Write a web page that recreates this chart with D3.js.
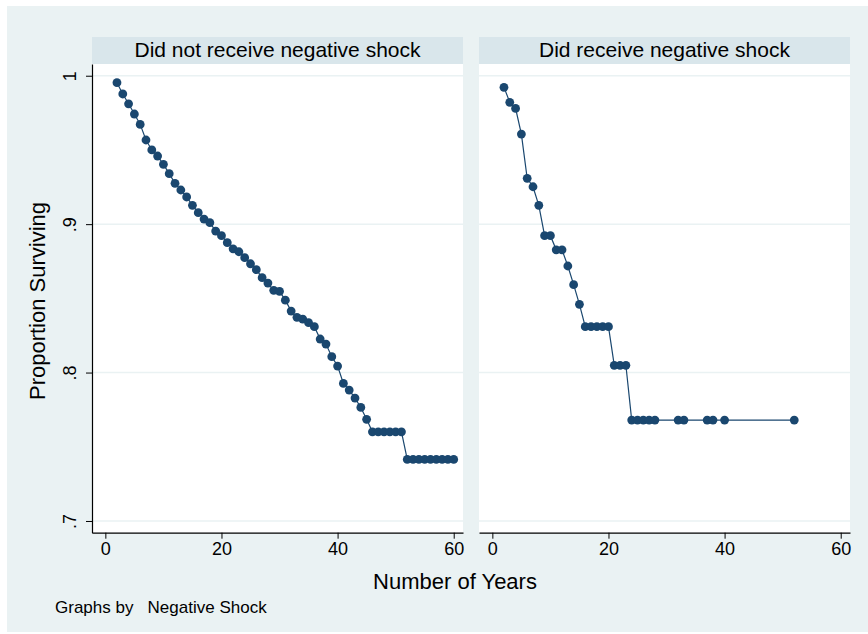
<!DOCTYPE html>
<html>
<head>
<meta charset="utf-8">
<script src="https://cdn.jsdelivr.net/npm/d3@7"></script>
<style>
  body { margin: 0; background: #fff; }
  svg { display: block; font-family: "Liberation Sans", Arial, sans-serif; }
</style>
</head>
<body>
<div id="chart"></div>
<script>
// panel titles
var panels = ["Did not receive negative shock", "Did receive negative shock"];

// years and proportion surviving, no shock
var yearsNo = [2,3,4,5,6,7,8,9,10,11,12,13,14,15,16,17,18,19,20,21,22,23,24,25,26,27,28,29,30,
  31,32,33,34,35,36,37,38,39,40,41,42,43,44,45,46,47,48,49,50,51,52,53,54,55,56,57,58,59,60];
var survNo = [0.9953,0.9877,0.9811,0.9742,0.9672,0.9567,0.9500,0.9459,0.9403,0.9340,0.9275,0.9230,
  0.9183,0.9127,0.9077,0.9034,0.9010,0.8953,0.8922,0.8875,0.8834,0.8814,0.8774,0.8733,0.8693,0.8639,
  0.8603,0.8554,0.8547,0.8488,0.8414,0.8372,0.8360,0.8336,0.8309,0.8226,0.8192,0.8107,0.8044,0.7927,
  0.7882,0.7828,0.7765,0.7685,0.7601,0.7601,0.7601,0.7601,0.7601,0.7601,0.7415,0.7415,0.7415,0.7415,
  0.7415,0.7415,0.7415,0.7415,0.7415];

// years and proportion surviving, shock
var yearsShock = [2,3,4,5,6,7,8,9,10,11,12,13,14,15,16,17,18,19,20,21,22,23,24,25,26,27,28,32,33,37,38,40,52];
var survShock = [0.9922,0.9821,0.9780,0.9607,0.9309,0.9252,0.9127,0.8922,0.8922,0.8827,0.8827,0.8718,
  0.8592,0.8460,0.8309,0.8309,0.8309,0.8309,0.8309,0.8049,0.8049,0.8049,0.7680,0.7680,0.7680,0.7680,
  0.7680,0.7680,0.7680,0.7680,0.7680,0.7680,0.7680];

var xTicks = [0, 20, 40, 60];
var yTicks = [0.7, 0.8, 0.9, 1];

var W = 868, H = 634;
var plotTop = 64, plotBottom = 532.7, panelW = 371;
var panelX = [92, 479];
var navy = "#1a476f", bg = "#eaf2f3", strip = "#d9e6eb", grid = "#eaf2f3";

var svg = d3.select("#chart").append("svg")
  .attr("width", W)
  .attr("height", H);

svg.append("rect").attr("x", 0).attr("y", 0).attr("width", W).attr("height", H).attr("fill", "#fff");
svg.append("rect").attr("x", 7).attr("y", 6).attr("width", W - 7).attr("height", 626).attr("fill", bg);

var x = d3.scaleLinear().domain([-2.3, 61.6]).range([0, panelW]);
var y = d3.scaleLinear().domain([0.6921, 1.0079]).range([plotBottom, plotTop]);

var series = [
  d3.zip(yearsNo, survNo),
  d3.zip(yearsShock, survShock)
];

series.forEach(function(pts, i) {
  var g = svg.append("g").attr("transform", "translate(" + panelX[i] + ",0)");

  // strip header
  g.append("rect").attr("x", 0).attr("y", 37).attr("width", panelW).attr("height", plotTop - 37)
    .attr("fill", strip);
  g.append("text")
    .attr("x", panelW / 2).attr("y", 57)
    .attr("text-anchor", "middle")
    .attr("font-size", 21)
    .attr("fill", "#000")
    .text(panels[i]);

  // plot region
  g.append("rect").attr("x", 0).attr("y", plotTop).attr("width", panelW).attr("height", plotBottom - plotTop)
    .attr("fill", "#fff");

  // gridlines
  g.selectAll(".grid")
    .data(yTicks)
    .enter().append("line")
      .attr("x1", 0).attr("x2", panelW)
      .attr("y1", d => y(d)).attr("y2", d => y(d))
      .attr("stroke", grid).attr("stroke-width", 1.5);

  // line + markers
  var line = d3.line().x(d => x(d[0])).y(d => y(d[1]));
  g.append("path")
    .datum(pts)
    .attr("d", line)
    .attr("fill", "none")
    .attr("stroke", navy)
    .attr("stroke-width", 1.2);

  g.selectAll(".pt")
    .data(pts)
    .enter().append("circle")
      .attr("cx", d => x(d[0]))
      .attr("cy", d => y(d[1]))
      .attr("r", 4.4)
      .attr("fill", navy);

  // x axis
  var xa = g.append("g")
    .attr("transform", "translate(0," + plotBottom + ")")
    .call(d3.axisBottom(x).tickValues(xTicks).tickSize(6).tickPadding(4).tickSizeOuter(0));
  xa.select(".domain").attr("stroke", "#000").attr("stroke-width", 1.2);
  xa.selectAll(".tick line").attr("stroke", "#000");
  xa.selectAll("text").attr("font-size", 18).attr("font-family", "Liberation Sans, Arial, sans-serif")
    .attr("fill", "#000");
});

// y axis on left panel
var ya = svg.append("g")
  .attr("transform", "translate(" + panelX[0] + ",0)")
  .call(d3.axisLeft(y).tickValues(yTicks).tickSize(6).tickSizeOuter(0)
    .tickFormat(d => d === 1 ? "1" : d3.format(".1f")(d).replace(/^0/, "")));
ya.select(".domain").attr("stroke", "#000").attr("stroke-width", 1.2);
ya.selectAll(".tick line").attr("stroke", "#000");
ya.selectAll(".tick text")
  .attr("x", 0).attr("dy", null)
  .attr("transform", "translate(-16,0) rotate(-90)")
  .attr("text-anchor", "middle")
  .attr("font-size", 18)
  .attr("font-family", "Liberation Sans, Arial, sans-serif")
  .attr("fill", "#000");

// axis titles
svg.append("text")
  .attr("transform", "translate(45,301) rotate(-90)")
  .attr("text-anchor", "middle")
  .attr("font-size", 22)
  .text("Proportion Surviving");

svg.append("text")
  .attr("x", 455).attr("y", 589)
  .attr("text-anchor", "middle")
  .attr("font-size", 22)
  .text("Number of Years");

svg.append("text")
  .attr("x", 55).attr("y", 613)
  .attr("font-size", 17)
  .attr("xml:space", "preserve")
  .text("Graphs by   Negative Shock");
</script>
</body>
</html>
